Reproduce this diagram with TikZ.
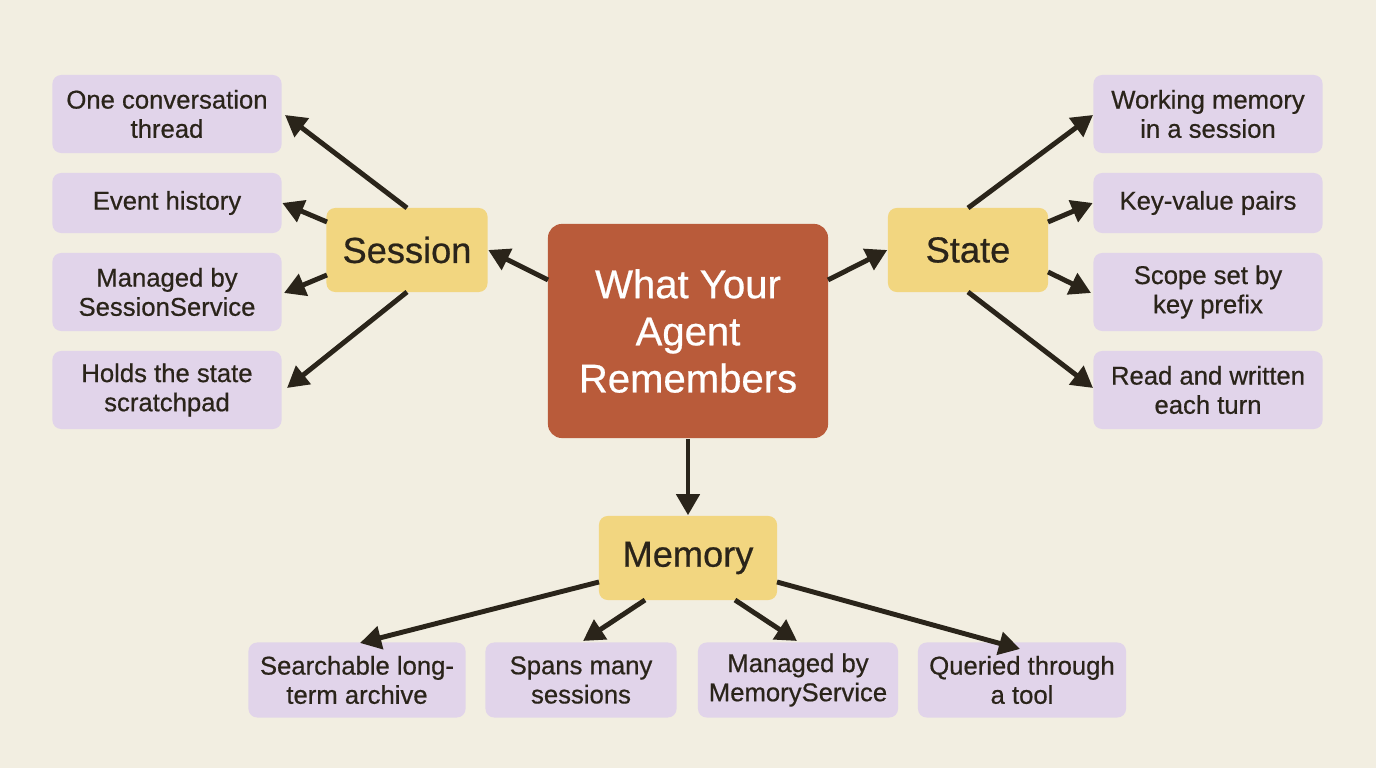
\documentclass[tikz,border=0pt]{standalone}
\usepackage{fontspec}
\setmainfont{Liberation Sans}[FakeBold=0.6]
\usetikzlibrary{arrows.meta}
\definecolor{bg}{HTML}{F2EEE1}
\definecolor{rust}{HTML}{B95B3A}
\definecolor{yel}{HTML}{F2D680}
\definecolor{lav}{HTML}{E1D4EA}
\definecolor{ink}{HTML}{2A241A}
\begin{document}
\begin{tikzpicture}[x=0.01cm,y=-0.01cm,
  leaf/.style={fill=lav,draw=none,align=center,inner sep=0pt,
    font=\fontsize{7.3pt}{8.3pt}\selectfont,text=ink,rounded corners=2.5pt},
  hub/.style={fill=yel,rounded corners=2.5pt,align=center,inner sep=0pt,
    font=\fontsize{10.3pt}{11pt}\selectfont,text=ink},
  arr/.style={draw=ink,line width=1.4pt,-{Triangle[length=6pt,width=6.5pt]}}]
\fill[bg] (0,0) rectangle (1376,768);
\useasboundingbox (0,0) rectangle (1376,768);
\node[fill=rust,rounded corners=4pt,minimum width=2.8cm,minimum height=2.14cm,align=center,
  text=white,font=\fontsize{11.4pt}{13.4pt}\selectfont] (c) at (688,331) {What Your\\Agent\\Remembers};
\node[hub,minimum width=1.61cm,minimum height=0.84cm] (se) at (407,250) {Session};
\node[hub,minimum width=1.60cm,minimum height=0.84cm] (st) at (968,250) {State};
\node[hub,minimum width=1.78cm,minimum height=0.84cm] (me) at (688,558) {Memory};
\foreach \n/\y/\h/\t in {l1/114/0.78/{One conversation\\thread},l2/203/0.60/{Event history},
  l3/292/0.78/{Managed by\\SessionService},l4/390/0.78/{Holds the state\\scratchpad}}
  \node[leaf,minimum width=2.29cm,minimum height=\h cm] (\n) at (167,\y) {\t};
\foreach \n/\y/\h/\t in {r1/114/0.78/{Working memory\\in a session},r2/203/0.60/{Key-value pairs},
  r3/292/0.78/{Scope set by\\key prefix},r4/390/0.78/{Read and written\\each turn}}
  \node[leaf,minimum width=2.29cm,minimum height=\h cm] (\n) at (1208,\y) {\t};
\node[leaf,minimum width=2.17cm,minimum height=0.75cm] (b1) at (357,680) {Searchable long-\\term archive};
\node[leaf,minimum width=1.91cm,minimum height=0.75cm] (b2) at (581,680) {Spans many\\sessions};
\node[leaf,minimum width=2.00cm,minimum height=0.75cm] (b3) at (798,680) {Managed by\\MemoryService};
\node[leaf,minimum width=2.08cm,minimum height=0.75cm] (b4) at (1022,680) {Queried through\\a tool};
\coordinate (s1) at (407,208); \coordinate (s2) at (327,222); \coordinate (s3) at (327,275); \coordinate (s4) at (407,292);
\coordinate (t1) at (968,208); \coordinate (t2) at (1048,222); \coordinate (t3) at (1048,272); \coordinate (t4) at (968,292);
\coordinate (cl) at (548,280); \coordinate (cr) at (828,280);
\coordinate (m1) at (599,582); \coordinate (m2) at (645,600); \coordinate (m3) at (735,600); \coordinate (m4) at (777,582);
\draw[arr] (s1) -- (285,115);
\draw[arr] (s2) -- (l2.east);
\draw[arr] (s3) -- (284,293);
\draw[arr] (s4) -- (287,388);
\draw[arr] (cl) -- (se.east);
\draw[arr] (cr) -- (st.west);
\draw[arr] (t1) -- (1093,115);
\draw[arr] (t2) -- (r2.west);
\draw[arr] (t3) -- (1091,293);
\draw[arr] (t4) -- (1093,388);
\draw[arr] (c.south) -- (me.north);
\draw[arr] (m1) -- (360,643);
\draw[arr] (m2) -- (583,641);
\draw[arr] (m3) -- (797,641);
\draw[arr] (m4) -- (1020,649);
\end{tikzpicture}
\end{document}
